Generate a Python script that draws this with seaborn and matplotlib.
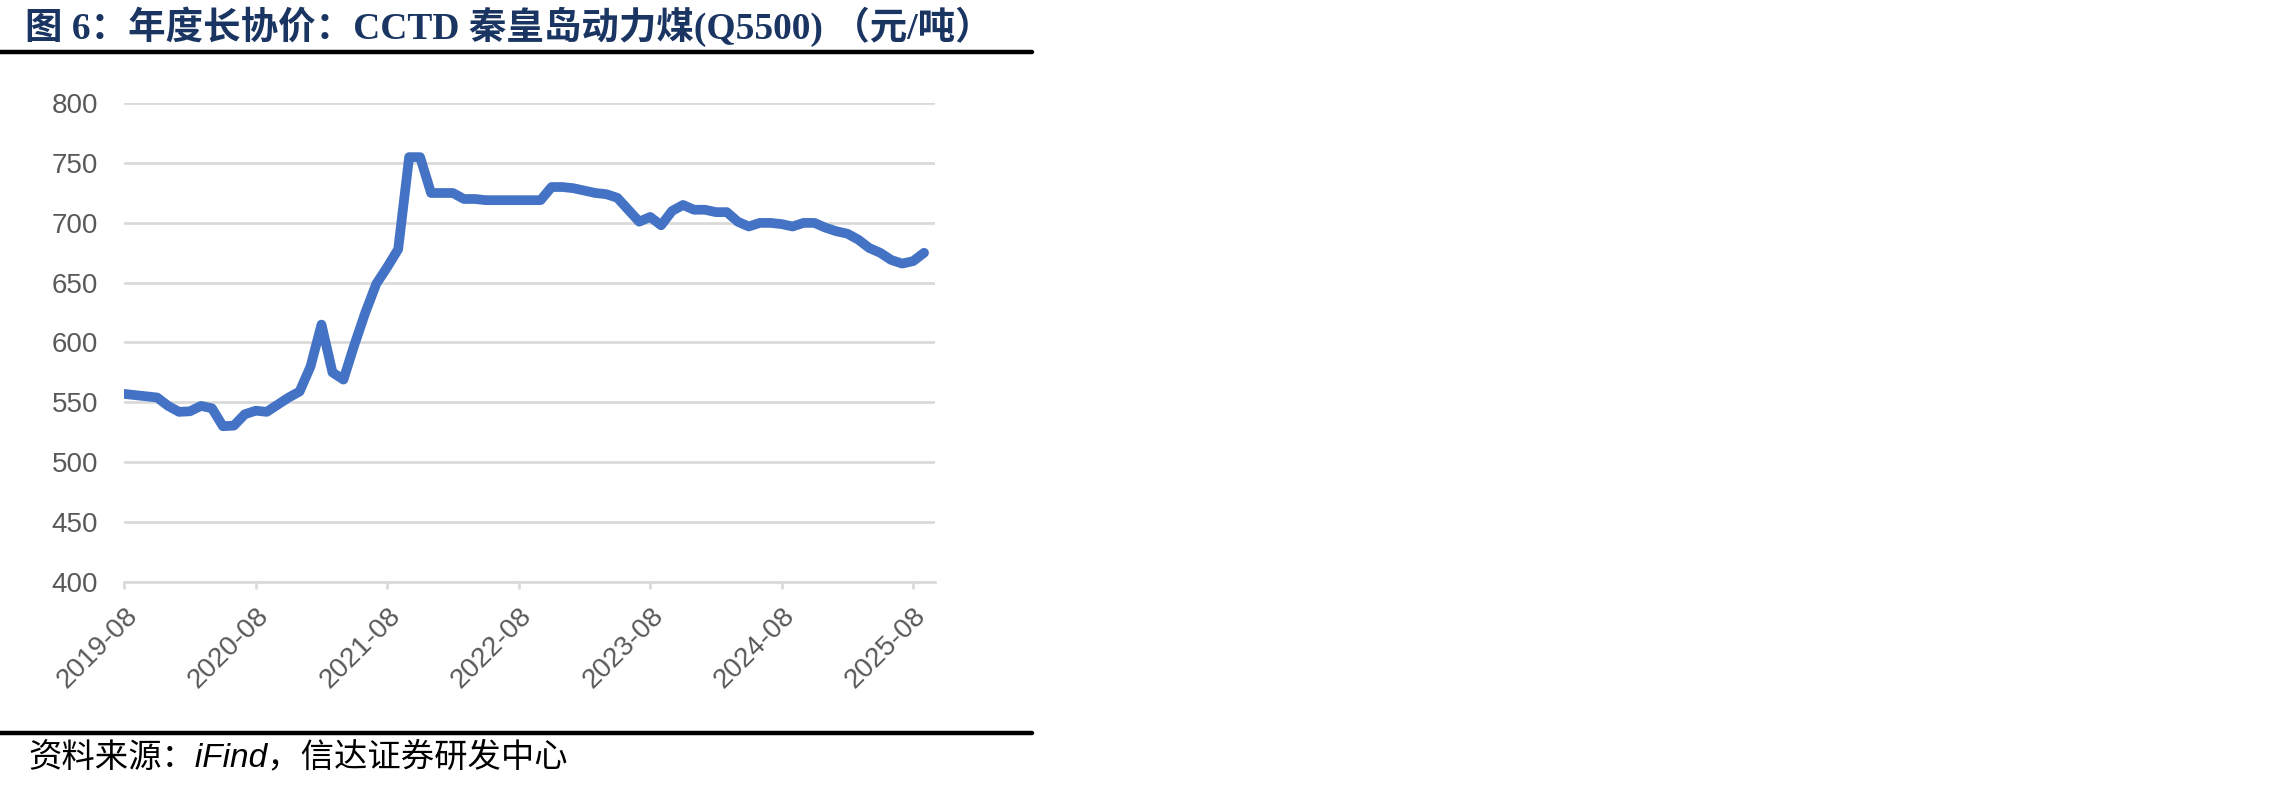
import matplotlib
matplotlib.use("Agg")
import matplotlib.pyplot as plt
from matplotlib.lines import Line2D
import matplotlib.transforms as mtransforms
import seaborn as sns
import pandas as pd

# ---- data ----
start_month = "2019-08"
price = [557, 556, 555, 554, 547, 542, 542.5, 547, 545, 530,
         530.5, 540, 543, 542, 548, 554, 559, 580, 615, 575,
         569, 598, 625, 649, 663, 678, 755, 755, 725, 725,
         725, 720, 720, 719, 719, 719, 719, 719, 719, 730,
         730, 729, 727, 725, 724, 721, 711, 701, 705, 698,
         710, 715, 711, 711, 709, 709, 701, 697, 700, 700,
         699, 697, 700, 700, 696, 693, 691, 686, 679, 675,
         669, 666, 668, 675]
yticks = [400, 450, 500, 550, 600, 650, 700, 750, 800]
tick_step = 12

title = "图 6：年度长协价：CCTD 秦皇岛动力煤(Q5500) （元/吨）"
source = "资料来源：iFind，信达证券研发中心"

months = [str(p) for p in pd.period_range(start_month, periods=len(price), freq="M")]
df = pd.DataFrame({"idx": range(len(price)), "month": months, "price": price})

sns.set_theme(style="white")
plt.rcParams["font.family"] = ["Liberation Sans", "Noto Sans CJK SC", "DejaVu Sans"]

W, H = 2280, 788
fig = plt.figure(figsize=(W / 100, H / 100), dpi=100)
fig.patch.set_facecolor("white")

left_px, right_px, top_px, bot_px = 124.3, 935.0, 103.3, 581.7
ax = fig.add_axes([left_px / W, 1 - bot_px / H, (right_px - left_px) / W, (bot_px - top_px) / H])

sns.lineplot(data=df, x="idx", y="price", ax=ax, color="#4472C4", linewidth=7,
             solid_joinstyle="round", solid_capstyle="round", zorder=3)

grid_c = "#D9D9D9"
ax.set_xlim(0, 74)
ax.set_ylim(yticks[0], yticks[-1])
ax.set_yticks(yticks)
ax.set_yticklabels([str(v) for v in yticks])
xt = list(range(0, len(price), tick_step))
ax.set_xticks(xt)
ax.set_xticklabels([months[i] for i in xt], rotation=45, ha="right", va="top",
                   rotation_mode="anchor")
shift = mtransforms.ScaledTranslation(-4 / 100, 0, fig.dpi_scale_trans)
for lab in ax.get_xticklabels():
    lab.set_transform(lab.get_transform() + shift)
ax.set_xlabel("")
ax.set_ylabel("")
ax.grid(axis="y", color=grid_c, linewidth=1.9)
ax.grid(axis="x", visible=False)
ax.set_axisbelow(True)
for s in ["top", "right", "left"]:
    ax.spines[s].set_visible(False)
ax.spines["bottom"].set_color(grid_c)
ax.spines["bottom"].set_linewidth(1.9)
ax.tick_params(axis="y", length=0, pad=19, labelsize=20, labelcolor="#595959")
ax.tick_params(axis="x", length=5, width=1.9, color=grid_c, direction="out",
               pad=10, labelsize=20, labelcolor="#595959", bottom=True)

# title and source
fig.text(25 / W, 1 - 27 / H, title, fontsize=27, fontweight="bold", color="#1A3562",
         family=["Liberation Serif", "Noto Sans CJK SC"], ha="left", va="center")
fig.add_artist(Line2D([0, 1032 / W], [1 - 51.5 / H] * 2, color="black", linewidth=3.2,
                      transform=fig.transFigure))
fig.add_artist(Line2D([0, 1032 / W], [1 - 732.5 / H] * 2, color="black", linewidth=3.2,
                      transform=fig.transFigure))
fig.text(28 / W, 1 - 757 / H, source, fontsize=24, color="black", style="italic",
         family=["Liberation Sans", "Noto Sans CJK SC"], ha="left", va="center")

fig.savefig("out.png", dpi=100, facecolor="white")
